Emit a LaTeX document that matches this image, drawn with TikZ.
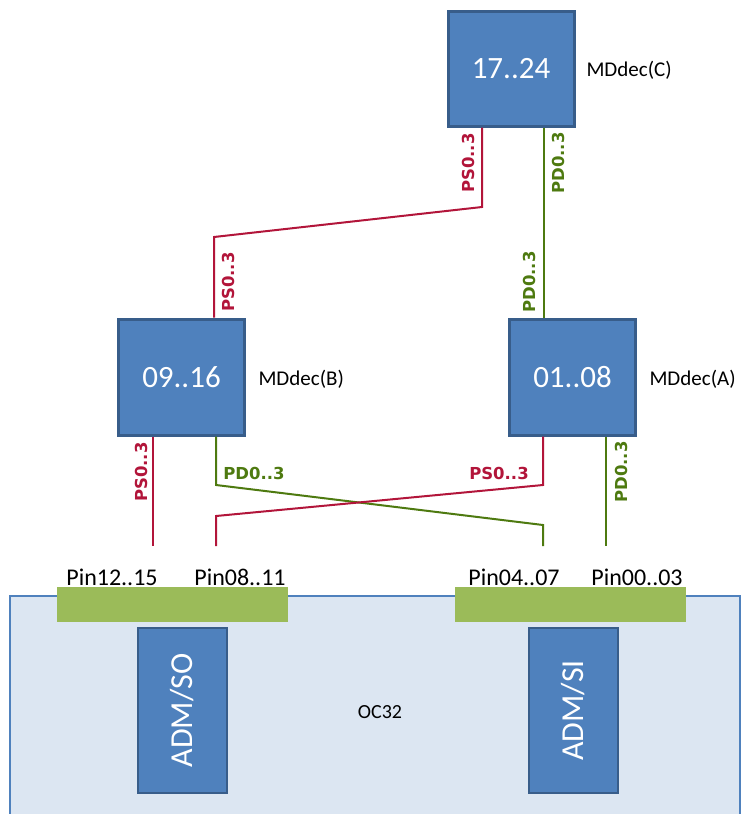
\documentclass[tikz,border=0pt]{standalone}
\usepackage{fontspec}
\setmainfont{Carlito}
\newfontfamily\lblfont{DejaVu Sans}
\definecolor{boxfill}{HTML}{4F81BD}
\definecolor{boxline}{HTML}{385D8A}
\definecolor{sigred}{HTML}{B2153A}
\definecolor{siggreen}{HTML}{4E7A10}
\definecolor{pinbar}{HTML}{9BBB59}
\definecolor{panelfill}{HTML}{DCE6F2}
\begin{document}
\begin{tikzpicture}[x=1pt,y=-1pt,
  decbox/.style={draw=boxline, fill=boxfill, line width=3pt, inner sep=0pt,
    minimum width=126pt, minimum height=115pt, text=white,
    font=\fontsize{31}{31}\selectfont},
  admbox/.style={draw=boxline, fill=boxfill, line width=2.5pt, inner sep=0pt,
    minimum width=89pt, minimum height=165pt, text=white,
    font=\fontsize{32}{32}\selectfont},
  tag/.style={anchor=west, font=\fontsize{21}{21}\selectfont},
  pinlbl/.style={font=\fontsize{24}{24}\selectfont},
  redw/.style={draw=sigred, line width=2pt},
  greenw/.style={draw=siggreen, line width=2pt},
  siglbl/.style={font=\lblfont\bfseries\fontsize{16.5}{16.5}\selectfont, inner sep=0pt}]
\useasboundingbox (0,0) rectangle (743,814);

% OC32 carrier board, open at the bottom
\fill[panelfill] (10,596) rectangle (740,814);
\draw[boxfill, line width=2.5pt] (10,814) -- (10,596) -- (740,596) -- (740,814);
\node[font=\fontsize{20}{20}\selectfont] (oc) at (380,712) {OC32};

% pin connector strips
\fill[pinbar] (57,587) rectangle (288,622);
\fill[pinbar] (455,587) rectangle (686,622);

\node[pinlbl] (l12) at (112,577) {Pin12..15};
\node[pinlbl] (l08) at (240,577) {Pin08..11};
\node[pinlbl] (l04) at (514,577) {Pin04..07};
\node[pinlbl] (l00) at (637,577) {Pin00..03};

% ADM modules
\node[admbox] (so) at (182.5,710.5) {\rotatebox{90}{ADM/SO}};
\node[admbox] (si) at (573.5,710.5) {\rotatebox{90}{ADM/SI}};

% MDdec decoders
\node[decbox] (C) at (511,68.5) {17..24};
\node[decbox, minimum height=116pt] (B) at (181.5,377) {09..16};
\node[decbox, minimum height=116pt] (A) at (572.5,377) {01..08};
\node[tag] (tC) at (583,70) {MDdec(C)};
\node[tag] (tB) at (255,379) {MDdec(B)};
\node[tag] (tA) at (646,379) {MDdec(A)};

% wire columns
\coordinate (xCr) at (482,0);
\coordinate (xCg) at (544,0);
\coordinate (xBr) at (214,0);
\coordinate (xBs) at (153,0);
\coordinate (xBd) at (216,0);
\coordinate (xAr) at (543,0);
\coordinate (xAd) at (606,0);
% wire ends above the pin strips
\coordinate (p12) at (153,546);
\coordinate (p08) at (216,546);
\coordinate (p04) at (543,546);
\coordinate (p00) at (606,546);

% C <-> B, C <-> A
\draw[redw] (C.south -| xCr) -- (482,207) -- (214,237) -- (B.north -| xBr);
\draw[greenw] (C.south -| xCg) -- (A.north -| xCg);

% B, A <-> pins
\draw[redw] (B.south -| xBs) -- (p12);
\draw[greenw] (B.south -| xBd) -- (216,485) -- (543,525) -- (p04);
\draw[redw] (A.south -| xAr) -- (543,485) -- (216,516) -- (p08);
\draw[greenw] (A.south -| xAd) -- (p00);

% signal labels
\node[siglbl, text=sigred, rotate=90] (s1) at (468,163) {PS0..3};
\node[siglbl, text=siggreen, rotate=90] (s2) at (558,163) {PD0..3};
\node[siglbl, text=sigred, rotate=90] (s3) at (228,282) {PS0..3};
\node[siglbl, text=siggreen, rotate=90] (s4) at (529,282) {PD0..3};
\node[siglbl, text=sigred, rotate=90] (s5) at (141,472) {PS0..3};
\node[siglbl, text=siggreen, rotate=90] (s6) at (621,472) {PD0..3};
\node[siglbl, text=siggreen] (s7) at (254,473) {PD0..3};
\node[siglbl, text=sigred] (s8) at (499,473) {PS0..3};
\end{tikzpicture}
\end{document}
